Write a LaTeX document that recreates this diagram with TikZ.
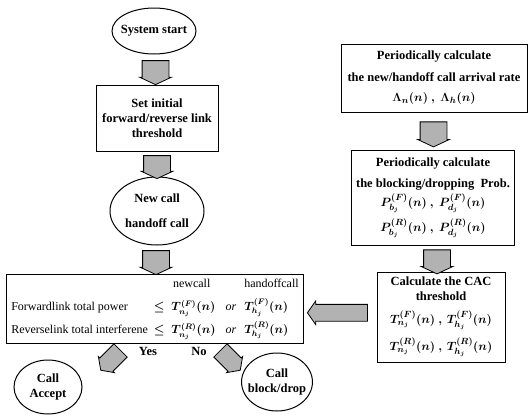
\documentclass[tikz,border=0pt]{standalone}
\usepackage{amsmath,amssymb}
\usepackage{fontspec}
\setmainfont{Liberation Serif}
\usetikzlibrary{shapes.geometric,shapes.arrows,calc}

\begin{document}
\begin{tikzpicture}[x=1pt, y=-1pt,
  every node/.style={font=\fontsize{12.5}{15}\selectfont\bfseries\boldmath},
  procbox/.style={draw, line width=1pt, align=center, inner sep=2pt},
  roundbox/.style={draw, line width=1pt, ellipse, align=center, inner xsep=-4pt, inner ysep=-2pt},
  fatarrow/.style={single arrow, draw, line width=0.8pt, fill=gray!60, inner xsep=0pt,
    inner ysep=13pt, single arrow head extend=2.5pt, single arrow tip angle=130},
  slantarrow/.style={single arrow, draw, line width=0.8pt, fill=gray!60, inner xsep=0pt,
    inner ysep=9pt, single arrow head extend=2pt, single arrow tip angle=110,
    minimum height=28pt}]
  \useasboundingbox (0,0) rectangle (530,416);

  % left column
  \node[roundbox, minimum width=84pt, minimum height=46pt] (start) at (154,31) {System start};
  \node[procbox, minimum width=122pt, minimum height=66pt] (setth) at (157,118)
    {Set initial\\forward/reverse link\\threshold};
  \node[roundbox, minimum width=94pt, minimum height=68pt] (calls) at (157,211)
    {New call\\[10pt]handoff call};
  \node[procbox, inner xsep=5pt, minimum height=69pt,
    font=\fontsize{12}{15}\selectfont\mdseries\boldmath] (check) at (155,308.5) {%
    \begin{tabular}{@{}l@{\hspace{6pt}}l@{\hspace{10pt}}l@{\hspace{8pt}}l@{}}
      & \hspace{1.6em}newcall & & handoffcall\\[6pt]
      Forwardlink total power & $\le\ T_{n_j}^{(F)}(n)$ & \textit{or} & $T_{h_j}^{(F)}(n)$\\[6pt]
      Reverselink total interferene & $\le\ T_{n_j}^{(R)}(n)$ & \textit{or} & $T_{h_j}^{(R)}(n)$
    \end{tabular}};
  \node[roundbox, minimum width=68pt, minimum height=54pt] (accept) at (48,387) {Call\\Accept};
  \node[roundbox, minimum width=70pt, minimum height=58pt] (block) at (277,382) {Call\\block/drop};

  % right column
  \node[procbox, minimum width=186pt, minimum height=68pt] (rate) at (434,78)
    {Periodically calculate\\[7pt]the new/handoff call arrival rate\\[5pt]$\Lambda_n(n)\ ,\ \Lambda_h(n)$};
  \node[procbox, minimum width=163pt, minimum height=95pt] (prob) at (433,198)
    {Periodically calculate\\[6pt]the blocking/dropping\ \ Prob.\\[2pt]
     $P_{b_j}^{(F)}(n)\ ,\ P_{d_j}^{(F)}(n)$\\[5pt]$P_{b_j}^{(R)}(n)\ ,\ P_{d_j}^{(R)}(n)$};
  \node[procbox, minimum width=128pt, minimum height=90pt] (cac) at (441,317)
    {Calculate the CAC\\threshold\\[8pt]
     $T_{n_j}^{(F)}(n)\ ,\,T_{h_j}^{(F)}(n)$\\[7pt]$T_{n_j}^{(R)}(n)\ ,\,T_{h_j}^{(R)}(n)$};

  % block arrows
  \node[fatarrow, minimum height=24pt, rotate=-90] (a1) at ($(start.south)!0.5!(setth.north)$) {};
  \node[fatarrow, minimum height=23pt, rotate=-90] (a2) at ($(setth.south)!0.5!(calls.north)$) {};
  \node[fatarrow, minimum height=24pt, rotate=-90] (a3) at ($(calls.south)!0.5!(check.north)$) {};
  \node[fatarrow, minimum height=25pt, rotate=-90] (a4) at ($(rate.south)!0.5!(prob.north)$) {};
  \node[fatarrow, minimum height=24pt, rotate=-90] (a5) at ($(prob.south)!0.5!(cac.north)$) {};
  \node[fatarrow, inner ysep=8pt, minimum height=60pt, single arrow head extend=3.5pt,
    single arrow tip angle=110, rotate=180] (a6) at ($(cac.west)!0.5!(check.east)$) {};

  % decision
  \node[slantarrow, rotate=-135] (yesarrow) at (113,358) {};
  \node[slantarrow, rotate=-45] (noarrow) at (228,358) {};
  \node (yes) at (148,351) {Yes};
  \node (no) at (199,351) {No};
\end{tikzpicture}
\end{document}
